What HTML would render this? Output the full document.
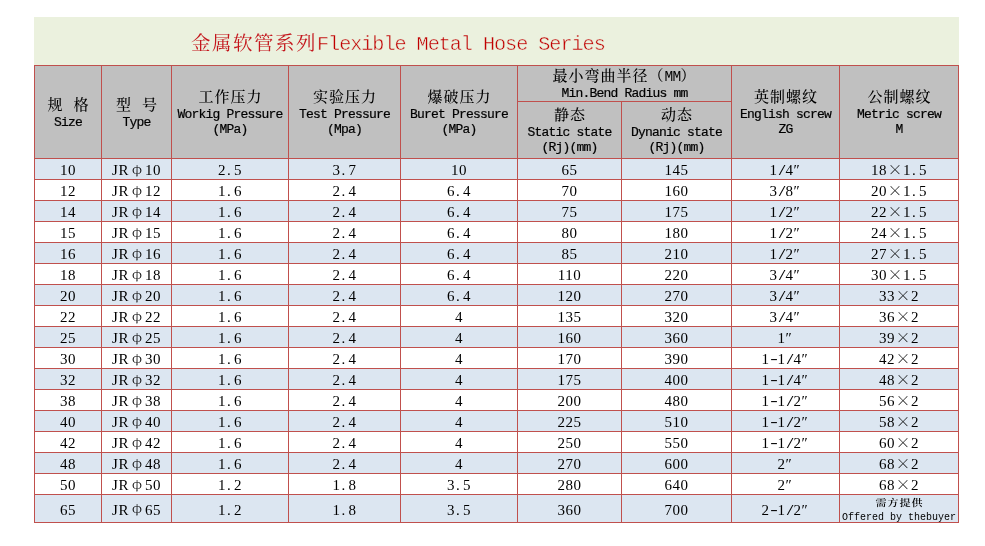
<!DOCTYPE html>
<html lang="zh-CN">
<head>
<meta charset="utf-8">
<title>金属软管系列 Flexible Metal Hose Series</title>
<style>
html,body{margin:0;padding:0;background:#fff;}
body{width:985px;height:546px;position:relative;overflow:hidden;font-family:"Liberation Mono","Noto Serif CJK SC",monospace;color:#000;}
.abs{position:absolute;}
.banner{left:34px;top:17px;width:925px;height:48px;background:#ebf1de;}
.title{left:191px;top:29px;height:32px;line-height:32px;white-space:nowrap;color:#c4161c;font-size:19.5px;letter-spacing:1.5px;font-family:"Liberation Mono","Noto Serif CJK SC",monospace;}
.title .en{color:#c00000;-webkit-text-stroke:0.45px #ebf1de;margin-left:0px;font-size:20.2px;letter-spacing:-1.05px;height:auto;line-height:inherit;}
.hl{background:#c0504d;height:1px;}
.vl{background:#c0504d;width:1px;}
.hd{background:#c0c0c0;}
.alt{background:#dce6f1;}
.cell{display:flex;flex-direction:column;align-items:center;justify-content:center;text-align:center;white-space:nowrap;}
.zh{font-size:15px;letter-spacing:1px;text-indent:1px;position:relative;top:1px;line-height:18px;height:18px;font-family:"Liberation Mono","Noto Serif CJK SC",monospace;font-weight:500;}
.en{font-size:13px;line-height:15px;height:15px;letter-spacing:-0.8px;-webkit-text-stroke:0.2px #000;}
.zh .lat{font-size:14.5px;letter-spacing:-0.7px;}
.d{font-family:"Liberation Serif","Noto Serif CJK SC",serif;font-size:15px;letter-spacing:0.5px;line-height:20px;position:relative;top:0px;}
.fw{display:inline-block;width:16px;line-height:1;text-align:center;letter-spacing:0;font-family:"Noto Serif CJK SC","Liberation Serif",serif;}
.ph{font-size:13px;line-height:15px;vertical-align:1.5px;}
.hw{display:inline-block;width:8px;text-align:center;letter-spacing:0;}
.dot{text-align:left;text-indent:1px;}
.q{text-align:left;}
.hy{transform:translateY(-1px) scaleX(1.5);}
.sl{transform:scaleX(1.6);}
.sm1{font-size:11px;line-height:12px;height:12px;letter-spacing:1px;text-indent:1px;transform:scaleY(.86);position:relative;top:0px;font-weight:600;font-family:"Liberation Mono","Noto Serif CJK SC",monospace;}
.sm2{font-size:10px;line-height:13px;height:13px;letter-spacing:0;position:relative;top:2px;}
</style>
</head>
<body>
<div class="abs banner"></div>
<div class="abs title">金属软管系列<span class="en">Flexible Metal Hose Series</span></div>
<div class="abs hd" style="left:34px;top:65px;width:925px;height:93px"></div>
<div class="abs alt" style="left:34px;top:158px;width:925px;height:21px"></div>
<div class="abs alt" style="left:34px;top:200px;width:925px;height:21px"></div>
<div class="abs alt" style="left:34px;top:242px;width:925px;height:21px"></div>
<div class="abs alt" style="left:34px;top:284px;width:925px;height:21px"></div>
<div class="abs alt" style="left:34px;top:326px;width:925px;height:21px"></div>
<div class="abs alt" style="left:34px;top:368px;width:925px;height:21px"></div>
<div class="abs alt" style="left:34px;top:410px;width:925px;height:21px"></div>
<div class="abs alt" style="left:34px;top:452px;width:925px;height:21px"></div>
<div class="abs alt" style="left:34px;top:494px;width:925px;height:28px"></div>
<div class="abs hl" style="left:34px;top:65px;width:925px"></div>
<div class="abs hl" style="left:517px;top:101px;width:215px"></div>
<div class="abs hl" style="left:34px;top:158px;width:925px"></div>
<div class="abs hl" style="left:34px;top:179px;width:925px"></div>
<div class="abs hl" style="left:34px;top:200px;width:925px"></div>
<div class="abs hl" style="left:34px;top:221px;width:925px"></div>
<div class="abs hl" style="left:34px;top:242px;width:925px"></div>
<div class="abs hl" style="left:34px;top:263px;width:925px"></div>
<div class="abs hl" style="left:34px;top:284px;width:925px"></div>
<div class="abs hl" style="left:34px;top:305px;width:925px"></div>
<div class="abs hl" style="left:34px;top:326px;width:925px"></div>
<div class="abs hl" style="left:34px;top:347px;width:925px"></div>
<div class="abs hl" style="left:34px;top:368px;width:925px"></div>
<div class="abs hl" style="left:34px;top:389px;width:925px"></div>
<div class="abs hl" style="left:34px;top:410px;width:925px"></div>
<div class="abs hl" style="left:34px;top:431px;width:925px"></div>
<div class="abs hl" style="left:34px;top:452px;width:925px"></div>
<div class="abs hl" style="left:34px;top:473px;width:925px"></div>
<div class="abs hl" style="left:34px;top:494px;width:925px"></div>
<div class="abs hl" style="left:34px;top:522px;width:925px"></div>
<div class="abs vl" style="left:34px;top:65px;height:458px"></div>
<div class="abs vl" style="left:101px;top:65px;height:458px"></div>
<div class="abs vl" style="left:171px;top:65px;height:458px"></div>
<div class="abs vl" style="left:288px;top:65px;height:458px"></div>
<div class="abs vl" style="left:400px;top:65px;height:458px"></div>
<div class="abs vl" style="left:517px;top:65px;height:458px"></div>
<div class="abs vl" style="left:621px;top:101px;height:422px"></div>
<div class="abs vl" style="left:731px;top:65px;height:458px"></div>
<div class="abs vl" style="left:839px;top:65px;height:458px"></div>
<div class="abs vl" style="left:958px;top:65px;height:458px"></div>
<div class="abs cell" style="left:35px;top:67px;width:66px;height:92px"><div class="zh">规 格</div><div class="en">Size</div></div>
<div class="abs cell" style="left:102px;top:67px;width:69px;height:92px"><div class="zh">型 号</div><div class="en">Type</div></div>
<div class="abs cell" style="left:172px;top:67px;width:116px;height:92px"><div class="zh">工作压力</div><div class="en">Workig Pressure</div><div class="en">(MPa)</div></div>
<div class="abs cell" style="left:289px;top:67px;width:111px;height:92px"><div class="zh">实验压力</div><div class="en">Test Pressure</div><div class="en">(Mpa)</div></div>
<div class="abs cell" style="left:401px;top:67px;width:116px;height:92px"><div class="zh">爆破压力</div><div class="en">Buret Pressure</div><div class="en">(MPa)</div></div>
<div class="abs cell" style="left:518px;top:67px;width:213px;height:35px"><div class="zh" style="top:0;text-indent:0">最小弯曲半径（<span class="lat">MM</span>）</div><div class="en">Min.Bend Radius mm</div></div>
<div class="abs cell" style="left:518px;top:103px;width:103px;height:56px"><div class="zh">静态</div><div class="en">Static state</div><div class="en">(Rj)(mm)</div></div>
<div class="abs cell" style="left:622px;top:103px;width:109px;height:56px"><div class="zh">动态</div><div class="en">Dynanic state</div><div class="en">(Rj)(mm)</div></div>
<div class="abs cell" style="left:732px;top:67px;width:107px;height:92px"><div class="zh">英制螺纹</div><div class="en">English screw</div><div class="en">ZG</div></div>
<div class="abs cell" style="left:840px;top:67px;width:118px;height:92px"><div class="zh">公制螺纹</div><div class="en">Metric screw</div><div class="en">M</div></div>
<div class="abs cell" style="left:35px;top:160px;width:66px;height:20px"><div class="d">10</div></div>
<div class="abs cell" style="left:102px;top:160px;width:69px;height:20px"><div class="d">JR<span class="fw ph">φ</span>10</div></div>
<div class="abs cell" style="left:172px;top:160px;width:116px;height:20px"><div class="d">2<span class="hw dot">.</span>5</div></div>
<div class="abs cell" style="left:289px;top:160px;width:111px;height:20px"><div class="d">3<span class="hw dot">.</span>7</div></div>
<div class="abs cell" style="left:401px;top:160px;width:116px;height:20px"><div class="d">10</div></div>
<div class="abs cell" style="left:518px;top:160px;width:103px;height:20px"><div class="d">65</div></div>
<div class="abs cell" style="left:622px;top:160px;width:109px;height:20px"><div class="d">145</div></div>
<div class="abs cell" style="left:732px;top:160px;width:107px;height:20px"><div class="d">1<span class="hw sl">/</span>4<span class="hw q">″</span></div></div>
<div class="abs cell" style="left:840px;top:160px;width:118px;height:20px"><div class="d">18<span class="fw">×</span>1<span class="hw dot">.</span>5</div></div>
<div class="abs cell" style="left:35px;top:181px;width:66px;height:20px"><div class="d">12</div></div>
<div class="abs cell" style="left:102px;top:181px;width:69px;height:20px"><div class="d">JR<span class="fw ph">φ</span>12</div></div>
<div class="abs cell" style="left:172px;top:181px;width:116px;height:20px"><div class="d">1<span class="hw dot">.</span>6</div></div>
<div class="abs cell" style="left:289px;top:181px;width:111px;height:20px"><div class="d">2<span class="hw dot">.</span>4</div></div>
<div class="abs cell" style="left:401px;top:181px;width:116px;height:20px"><div class="d">6<span class="hw dot">.</span>4</div></div>
<div class="abs cell" style="left:518px;top:181px;width:103px;height:20px"><div class="d">70</div></div>
<div class="abs cell" style="left:622px;top:181px;width:109px;height:20px"><div class="d">160</div></div>
<div class="abs cell" style="left:732px;top:181px;width:107px;height:20px"><div class="d">3<span class="hw sl">/</span>8<span class="hw q">″</span></div></div>
<div class="abs cell" style="left:840px;top:181px;width:118px;height:20px"><div class="d">20<span class="fw">×</span>1<span class="hw dot">.</span>5</div></div>
<div class="abs cell" style="left:35px;top:202px;width:66px;height:20px"><div class="d">14</div></div>
<div class="abs cell" style="left:102px;top:202px;width:69px;height:20px"><div class="d">JR<span class="fw ph">φ</span>14</div></div>
<div class="abs cell" style="left:172px;top:202px;width:116px;height:20px"><div class="d">1<span class="hw dot">.</span>6</div></div>
<div class="abs cell" style="left:289px;top:202px;width:111px;height:20px"><div class="d">2<span class="hw dot">.</span>4</div></div>
<div class="abs cell" style="left:401px;top:202px;width:116px;height:20px"><div class="d">6<span class="hw dot">.</span>4</div></div>
<div class="abs cell" style="left:518px;top:202px;width:103px;height:20px"><div class="d">75</div></div>
<div class="abs cell" style="left:622px;top:202px;width:109px;height:20px"><div class="d">175</div></div>
<div class="abs cell" style="left:732px;top:202px;width:107px;height:20px"><div class="d">1<span class="hw sl">/</span>2<span class="hw q">″</span></div></div>
<div class="abs cell" style="left:840px;top:202px;width:118px;height:20px"><div class="d">22<span class="fw">×</span>1<span class="hw dot">.</span>5</div></div>
<div class="abs cell" style="left:35px;top:223px;width:66px;height:20px"><div class="d">15</div></div>
<div class="abs cell" style="left:102px;top:223px;width:69px;height:20px"><div class="d">JR<span class="fw ph">φ</span>15</div></div>
<div class="abs cell" style="left:172px;top:223px;width:116px;height:20px"><div class="d">1<span class="hw dot">.</span>6</div></div>
<div class="abs cell" style="left:289px;top:223px;width:111px;height:20px"><div class="d">2<span class="hw dot">.</span>4</div></div>
<div class="abs cell" style="left:401px;top:223px;width:116px;height:20px"><div class="d">6<span class="hw dot">.</span>4</div></div>
<div class="abs cell" style="left:518px;top:223px;width:103px;height:20px"><div class="d">80</div></div>
<div class="abs cell" style="left:622px;top:223px;width:109px;height:20px"><div class="d">180</div></div>
<div class="abs cell" style="left:732px;top:223px;width:107px;height:20px"><div class="d">1<span class="hw sl">/</span>2<span class="hw q">″</span></div></div>
<div class="abs cell" style="left:840px;top:223px;width:118px;height:20px"><div class="d">24<span class="fw">×</span>1<span class="hw dot">.</span>5</div></div>
<div class="abs cell" style="left:35px;top:244px;width:66px;height:20px"><div class="d">16</div></div>
<div class="abs cell" style="left:102px;top:244px;width:69px;height:20px"><div class="d">JR<span class="fw ph">φ</span>16</div></div>
<div class="abs cell" style="left:172px;top:244px;width:116px;height:20px"><div class="d">1<span class="hw dot">.</span>6</div></div>
<div class="abs cell" style="left:289px;top:244px;width:111px;height:20px"><div class="d">2<span class="hw dot">.</span>4</div></div>
<div class="abs cell" style="left:401px;top:244px;width:116px;height:20px"><div class="d">6<span class="hw dot">.</span>4</div></div>
<div class="abs cell" style="left:518px;top:244px;width:103px;height:20px"><div class="d">85</div></div>
<div class="abs cell" style="left:622px;top:244px;width:109px;height:20px"><div class="d">210</div></div>
<div class="abs cell" style="left:732px;top:244px;width:107px;height:20px"><div class="d">1<span class="hw sl">/</span>2<span class="hw q">″</span></div></div>
<div class="abs cell" style="left:840px;top:244px;width:118px;height:20px"><div class="d">27<span class="fw">×</span>1<span class="hw dot">.</span>5</div></div>
<div class="abs cell" style="left:35px;top:265px;width:66px;height:20px"><div class="d">18</div></div>
<div class="abs cell" style="left:102px;top:265px;width:69px;height:20px"><div class="d">JR<span class="fw ph">φ</span>18</div></div>
<div class="abs cell" style="left:172px;top:265px;width:116px;height:20px"><div class="d">1<span class="hw dot">.</span>6</div></div>
<div class="abs cell" style="left:289px;top:265px;width:111px;height:20px"><div class="d">2<span class="hw dot">.</span>4</div></div>
<div class="abs cell" style="left:401px;top:265px;width:116px;height:20px"><div class="d">6<span class="hw dot">.</span>4</div></div>
<div class="abs cell" style="left:518px;top:265px;width:103px;height:20px"><div class="d">110</div></div>
<div class="abs cell" style="left:622px;top:265px;width:109px;height:20px"><div class="d">220</div></div>
<div class="abs cell" style="left:732px;top:265px;width:107px;height:20px"><div class="d">3<span class="hw sl">/</span>4<span class="hw q">″</span></div></div>
<div class="abs cell" style="left:840px;top:265px;width:118px;height:20px"><div class="d">30<span class="fw">×</span>1<span class="hw dot">.</span>5</div></div>
<div class="abs cell" style="left:35px;top:286px;width:66px;height:20px"><div class="d">20</div></div>
<div class="abs cell" style="left:102px;top:286px;width:69px;height:20px"><div class="d">JR<span class="fw ph">φ</span>20</div></div>
<div class="abs cell" style="left:172px;top:286px;width:116px;height:20px"><div class="d">1<span class="hw dot">.</span>6</div></div>
<div class="abs cell" style="left:289px;top:286px;width:111px;height:20px"><div class="d">2<span class="hw dot">.</span>4</div></div>
<div class="abs cell" style="left:401px;top:286px;width:116px;height:20px"><div class="d">6<span class="hw dot">.</span>4</div></div>
<div class="abs cell" style="left:518px;top:286px;width:103px;height:20px"><div class="d">120</div></div>
<div class="abs cell" style="left:622px;top:286px;width:109px;height:20px"><div class="d">270</div></div>
<div class="abs cell" style="left:732px;top:286px;width:107px;height:20px"><div class="d">3<span class="hw sl">/</span>4<span class="hw q">″</span></div></div>
<div class="abs cell" style="left:840px;top:286px;width:118px;height:20px"><div class="d">33<span class="fw">×</span>2</div></div>
<div class="abs cell" style="left:35px;top:307px;width:66px;height:20px"><div class="d">22</div></div>
<div class="abs cell" style="left:102px;top:307px;width:69px;height:20px"><div class="d">JR<span class="fw ph">φ</span>22</div></div>
<div class="abs cell" style="left:172px;top:307px;width:116px;height:20px"><div class="d">1<span class="hw dot">.</span>6</div></div>
<div class="abs cell" style="left:289px;top:307px;width:111px;height:20px"><div class="d">2<span class="hw dot">.</span>4</div></div>
<div class="abs cell" style="left:401px;top:307px;width:116px;height:20px"><div class="d">4</div></div>
<div class="abs cell" style="left:518px;top:307px;width:103px;height:20px"><div class="d">135</div></div>
<div class="abs cell" style="left:622px;top:307px;width:109px;height:20px"><div class="d">320</div></div>
<div class="abs cell" style="left:732px;top:307px;width:107px;height:20px"><div class="d">3<span class="hw sl">/</span>4<span class="hw q">″</span></div></div>
<div class="abs cell" style="left:840px;top:307px;width:118px;height:20px"><div class="d">36<span class="fw">×</span>2</div></div>
<div class="abs cell" style="left:35px;top:328px;width:66px;height:20px"><div class="d">25</div></div>
<div class="abs cell" style="left:102px;top:328px;width:69px;height:20px"><div class="d">JR<span class="fw ph">φ</span>25</div></div>
<div class="abs cell" style="left:172px;top:328px;width:116px;height:20px"><div class="d">1<span class="hw dot">.</span>6</div></div>
<div class="abs cell" style="left:289px;top:328px;width:111px;height:20px"><div class="d">2<span class="hw dot">.</span>4</div></div>
<div class="abs cell" style="left:401px;top:328px;width:116px;height:20px"><div class="d">4</div></div>
<div class="abs cell" style="left:518px;top:328px;width:103px;height:20px"><div class="d">160</div></div>
<div class="abs cell" style="left:622px;top:328px;width:109px;height:20px"><div class="d">360</div></div>
<div class="abs cell" style="left:732px;top:328px;width:107px;height:20px"><div class="d">1<span class="hw q">″</span></div></div>
<div class="abs cell" style="left:840px;top:328px;width:118px;height:20px"><div class="d">39<span class="fw">×</span>2</div></div>
<div class="abs cell" style="left:35px;top:349px;width:66px;height:20px"><div class="d">30</div></div>
<div class="abs cell" style="left:102px;top:349px;width:69px;height:20px"><div class="d">JR<span class="fw ph">φ</span>30</div></div>
<div class="abs cell" style="left:172px;top:349px;width:116px;height:20px"><div class="d">1<span class="hw dot">.</span>6</div></div>
<div class="abs cell" style="left:289px;top:349px;width:111px;height:20px"><div class="d">2<span class="hw dot">.</span>4</div></div>
<div class="abs cell" style="left:401px;top:349px;width:116px;height:20px"><div class="d">4</div></div>
<div class="abs cell" style="left:518px;top:349px;width:103px;height:20px"><div class="d">170</div></div>
<div class="abs cell" style="left:622px;top:349px;width:109px;height:20px"><div class="d">390</div></div>
<div class="abs cell" style="left:732px;top:349px;width:107px;height:20px"><div class="d">1<span class="hw hy">-</span>1<span class="hw sl">/</span>4<span class="hw q">″</span></div></div>
<div class="abs cell" style="left:840px;top:349px;width:118px;height:20px"><div class="d">42<span class="fw">×</span>2</div></div>
<div class="abs cell" style="left:35px;top:370px;width:66px;height:20px"><div class="d">32</div></div>
<div class="abs cell" style="left:102px;top:370px;width:69px;height:20px"><div class="d">JR<span class="fw ph">φ</span>32</div></div>
<div class="abs cell" style="left:172px;top:370px;width:116px;height:20px"><div class="d">1<span class="hw dot">.</span>6</div></div>
<div class="abs cell" style="left:289px;top:370px;width:111px;height:20px"><div class="d">2<span class="hw dot">.</span>4</div></div>
<div class="abs cell" style="left:401px;top:370px;width:116px;height:20px"><div class="d">4</div></div>
<div class="abs cell" style="left:518px;top:370px;width:103px;height:20px"><div class="d">175</div></div>
<div class="abs cell" style="left:622px;top:370px;width:109px;height:20px"><div class="d">400</div></div>
<div class="abs cell" style="left:732px;top:370px;width:107px;height:20px"><div class="d">1<span class="hw hy">-</span>1<span class="hw sl">/</span>4<span class="hw q">″</span></div></div>
<div class="abs cell" style="left:840px;top:370px;width:118px;height:20px"><div class="d">48<span class="fw">×</span>2</div></div>
<div class="abs cell" style="left:35px;top:391px;width:66px;height:20px"><div class="d">38</div></div>
<div class="abs cell" style="left:102px;top:391px;width:69px;height:20px"><div class="d">JR<span class="fw ph">φ</span>38</div></div>
<div class="abs cell" style="left:172px;top:391px;width:116px;height:20px"><div class="d">1<span class="hw dot">.</span>6</div></div>
<div class="abs cell" style="left:289px;top:391px;width:111px;height:20px"><div class="d">2<span class="hw dot">.</span>4</div></div>
<div class="abs cell" style="left:401px;top:391px;width:116px;height:20px"><div class="d">4</div></div>
<div class="abs cell" style="left:518px;top:391px;width:103px;height:20px"><div class="d">200</div></div>
<div class="abs cell" style="left:622px;top:391px;width:109px;height:20px"><div class="d">480</div></div>
<div class="abs cell" style="left:732px;top:391px;width:107px;height:20px"><div class="d">1<span class="hw hy">-</span>1<span class="hw sl">/</span>2<span class="hw q">″</span></div></div>
<div class="abs cell" style="left:840px;top:391px;width:118px;height:20px"><div class="d">56<span class="fw">×</span>2</div></div>
<div class="abs cell" style="left:35px;top:412px;width:66px;height:20px"><div class="d">40</div></div>
<div class="abs cell" style="left:102px;top:412px;width:69px;height:20px"><div class="d">JR<span class="fw ph">φ</span>40</div></div>
<div class="abs cell" style="left:172px;top:412px;width:116px;height:20px"><div class="d">1<span class="hw dot">.</span>6</div></div>
<div class="abs cell" style="left:289px;top:412px;width:111px;height:20px"><div class="d">2<span class="hw dot">.</span>4</div></div>
<div class="abs cell" style="left:401px;top:412px;width:116px;height:20px"><div class="d">4</div></div>
<div class="abs cell" style="left:518px;top:412px;width:103px;height:20px"><div class="d">225</div></div>
<div class="abs cell" style="left:622px;top:412px;width:109px;height:20px"><div class="d">510</div></div>
<div class="abs cell" style="left:732px;top:412px;width:107px;height:20px"><div class="d">1<span class="hw hy">-</span>1<span class="hw sl">/</span>2<span class="hw q">″</span></div></div>
<div class="abs cell" style="left:840px;top:412px;width:118px;height:20px"><div class="d">58<span class="fw">×</span>2</div></div>
<div class="abs cell" style="left:35px;top:433px;width:66px;height:20px"><div class="d">42</div></div>
<div class="abs cell" style="left:102px;top:433px;width:69px;height:20px"><div class="d">JR<span class="fw ph">φ</span>42</div></div>
<div class="abs cell" style="left:172px;top:433px;width:116px;height:20px"><div class="d">1<span class="hw dot">.</span>6</div></div>
<div class="abs cell" style="left:289px;top:433px;width:111px;height:20px"><div class="d">2<span class="hw dot">.</span>4</div></div>
<div class="abs cell" style="left:401px;top:433px;width:116px;height:20px"><div class="d">4</div></div>
<div class="abs cell" style="left:518px;top:433px;width:103px;height:20px"><div class="d">250</div></div>
<div class="abs cell" style="left:622px;top:433px;width:109px;height:20px"><div class="d">550</div></div>
<div class="abs cell" style="left:732px;top:433px;width:107px;height:20px"><div class="d">1<span class="hw hy">-</span>1<span class="hw sl">/</span>2<span class="hw q">″</span></div></div>
<div class="abs cell" style="left:840px;top:433px;width:118px;height:20px"><div class="d">60<span class="fw">×</span>2</div></div>
<div class="abs cell" style="left:35px;top:454px;width:66px;height:20px"><div class="d">48</div></div>
<div class="abs cell" style="left:102px;top:454px;width:69px;height:20px"><div class="d">JR<span class="fw ph">φ</span>48</div></div>
<div class="abs cell" style="left:172px;top:454px;width:116px;height:20px"><div class="d">1<span class="hw dot">.</span>6</div></div>
<div class="abs cell" style="left:289px;top:454px;width:111px;height:20px"><div class="d">2<span class="hw dot">.</span>4</div></div>
<div class="abs cell" style="left:401px;top:454px;width:116px;height:20px"><div class="d">4</div></div>
<div class="abs cell" style="left:518px;top:454px;width:103px;height:20px"><div class="d">270</div></div>
<div class="abs cell" style="left:622px;top:454px;width:109px;height:20px"><div class="d">600</div></div>
<div class="abs cell" style="left:732px;top:454px;width:107px;height:20px"><div class="d">2<span class="hw q">″</span></div></div>
<div class="abs cell" style="left:840px;top:454px;width:118px;height:20px"><div class="d">68<span class="fw">×</span>2</div></div>
<div class="abs cell" style="left:35px;top:475px;width:66px;height:20px"><div class="d">50</div></div>
<div class="abs cell" style="left:102px;top:475px;width:69px;height:20px"><div class="d">JR<span class="fw ph">φ</span>50</div></div>
<div class="abs cell" style="left:172px;top:475px;width:116px;height:20px"><div class="d">1<span class="hw dot">.</span>2</div></div>
<div class="abs cell" style="left:289px;top:475px;width:111px;height:20px"><div class="d">1<span class="hw dot">.</span>8</div></div>
<div class="abs cell" style="left:401px;top:475px;width:116px;height:20px"><div class="d">3<span class="hw dot">.</span>5</div></div>
<div class="abs cell" style="left:518px;top:475px;width:103px;height:20px"><div class="d">280</div></div>
<div class="abs cell" style="left:622px;top:475px;width:109px;height:20px"><div class="d">640</div></div>
<div class="abs cell" style="left:732px;top:475px;width:107px;height:20px"><div class="d">2<span class="hw q">″</span></div></div>
<div class="abs cell" style="left:840px;top:475px;width:118px;height:20px"><div class="d">68<span class="fw">×</span>2</div></div>
<div class="abs cell" style="left:35px;top:496px;width:66px;height:27px"><div class="d">65</div></div>
<div class="abs cell" style="left:102px;top:496px;width:69px;height:27px"><div class="d">JR<span class="fw ph">φ</span>65</div></div>
<div class="abs cell" style="left:172px;top:496px;width:116px;height:27px"><div class="d">1<span class="hw dot">.</span>2</div></div>
<div class="abs cell" style="left:289px;top:496px;width:111px;height:27px"><div class="d">1<span class="hw dot">.</span>8</div></div>
<div class="abs cell" style="left:401px;top:496px;width:116px;height:27px"><div class="d">3<span class="hw dot">.</span>5</div></div>
<div class="abs cell" style="left:518px;top:496px;width:103px;height:27px"><div class="d">360</div></div>
<div class="abs cell" style="left:622px;top:496px;width:109px;height:27px"><div class="d">700</div></div>
<div class="abs cell" style="left:732px;top:496px;width:107px;height:27px"><div class="d">2<span class="hw hy">-</span>1<span class="hw sl">/</span>2<span class="hw q">″</span></div></div>
<div class="abs cell" style="left:840px;top:496px;width:118px;height:27px"><div class="sm1">需方提供</div><div class="sm2">Offered by thebuyer</div></div>
</body>
</html>
